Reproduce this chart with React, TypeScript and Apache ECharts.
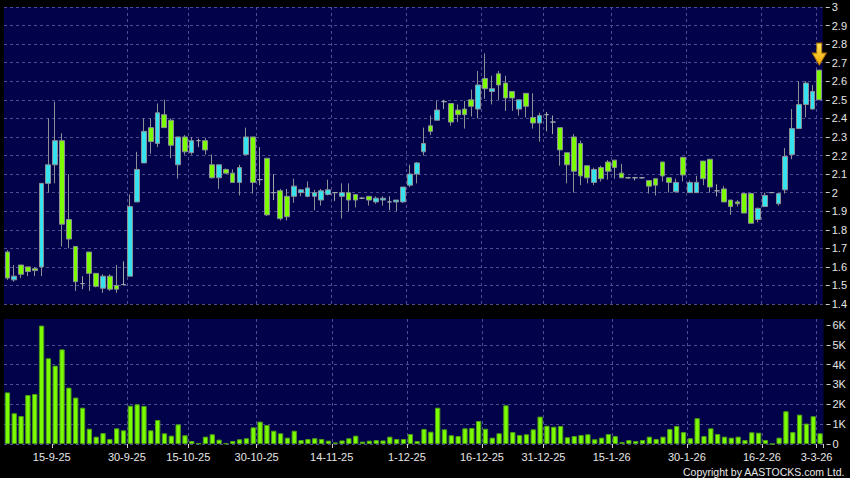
import React, { useEffect, useRef } from 'react';
import * as echarts from 'echarts';

const dates = [
  '4-9-25','5-9-25','8-9-25','9-9-25','10-9-25','11-9-25','12-9-25','15-9-25','16-9-25','17-9-25',
  '18-9-25','19-9-25','22-9-25','23-9-25','24-9-25','25-9-25','26-9-25','29-9-25','30-9-25',
  '2-10-25','3-10-25','6-10-25','8-10-25','9-10-25','10-10-25','13-10-25','14-10-25','15-10-25','16-10-25',
  '17-10-25','20-10-25','21-10-25','22-10-25','23-10-25','24-10-25','27-10-25','28-10-25','30-10-25','31-10-25',
  '3-11-25','4-11-25','5-11-25','6-11-25','7-11-25','10-11-25','11-11-25','12-11-25','13-11-25','14-11-25',
  '17-11-25','18-11-25','19-11-25','20-11-25','21-11-25','24-11-25','25-11-25','26-11-25','27-11-25','28-11-25',
  '1-12-25','2-12-25','3-12-25','4-12-25','5-12-25','8-12-25','9-12-25','10-12-25','11-12-25','12-12-25',
  '15-12-25','16-12-25','17-12-25','18-12-25','19-12-25','22-12-25','23-12-25','24-12-25','29-12-25','30-12-25','31-12-25',
  '2-1-26','5-1-26','6-1-26','7-1-26','8-1-26','9-1-26','12-1-26','13-1-26','14-1-26','15-1-26',
  '16-1-26','19-1-26','20-1-26','21-1-26','22-1-26','23-1-26','26-1-26','27-1-26','28-1-26','29-1-26','30-1-26',
  '2-2-26','3-2-26','4-2-26','5-2-26','6-2-26','9-2-26','10-2-26','11-2-26','12-2-26','13-2-26',
  '16-2-26','20-2-26','23-2-26','24-2-26','25-2-26','26-2-26','27-2-26',
  '2-3-26','3-3-26',
];

const opens = [
  1.68,1.53,1.61,1.60,1.59,1.60,2.05,2.15,2.28,1.855,
  1.71,1.51,1.68,1.565,1.485,1.55,1.50,1.505,1.55,1.95,
  2.16,2.35,2.265,2.42,2.39,2.15,2.30,2.215,2.28,2.28,
  2.15,2.08,2.125,2.105,2.055,2.205,2.30,2.07,2.185,2.0,
  2.01,1.98,1.98,2.0,1.98,1.98,1.96,1.99,2.0,1.98,
  2.0,1.99,1.97,1.98,1.95,1.96,1.95,1.95,1.95,2.04,
  2.10,2.22,2.36,2.39,2.49,2.48,2.445,2.45,2.50,2.45,
  2.615,2.545,2.64,2.59,2.545,2.45,2.535,2.405,2.375,2.42,
  2.38,2.35,2.215,2.30,2.265,2.145,2.055,2.135,2.165,2.175,
  2.105,2.08,2.08,2.08,2.065,2.075,2.165,2.08,2.005,2.19,
  2.0,2.0,2.17,2.18,2.01,2.02,1.96,1.95,1.995,1.995,
  1.855,1.925,2.0,1.94,2.015,2.205,2.345,2.475,2.45,2.66,
];

const closes = [
  1.54,1.55,1.56,1.575,1.58,2.05,2.15,2.28,1.83,1.75,
  1.52,1.51,1.565,1.495,1.55,1.48,1.48,1.505,1.925,2.125,
  2.33,2.275,2.43,2.35,2.255,2.30,2.22,2.28,2.28,2.23,
  2.08,2.15,2.105,2.055,2.135,2.30,2.055,2.07,1.88,2.0,
  1.86,1.87,2.035,2.015,2.025,2.0,2.01,2.015,2.0,2.0,
  1.96,1.96,1.97,1.96,1.97,1.97,1.95,1.96,2.03,2.10,
  2.16,2.265,2.33,2.445,2.49,2.38,2.42,2.42,2.465,2.58,
  2.56,2.56,2.58,2.51,2.51,2.50,2.465,2.375,2.415,2.42,
  2.38,2.23,2.15,2.115,2.09,2.08,2.125,2.075,2.115,2.135,
  2.08,2.08,2.08,2.08,2.035,2.04,2.09,2.055,2.055,2.095,
  2.055,2.055,2.075,2.03,2.01,1.95,1.925,1.94,1.89,1.835,
  1.915,1.985,2.0,1.995,2.195,2.345,2.475,2.59,2.545,2.50,
];

const lows = [
  1.53,1.52,1.54,1.55,1.55,1.55,2.00,2.05,1.71,1.70,
  1.47,1.48,1.47,1.49,1.46,1.47,1.46,1.50,1.55,1.95,
  2.16,2.21,2.245,2.35,2.185,2.075,2.205,2.205,2.245,2.205,
  2.075,2.02,2.10,2.055,1.985,2.205,1.995,2.04,1.875,1.96,
  1.85,1.85,1.945,1.98,1.975,1.905,1.93,1.985,1.955,1.86,
  1.90,1.92,1.965,1.93,1.94,1.93,1.905,1.90,1.945,2.03,
  2.05,2.20,2.31,2.39,2.45,2.36,2.38,2.345,2.41,2.40,
  2.505,2.475,2.50,2.44,2.44,2.415,2.405,2.345,2.275,2.33,
  2.315,2.145,2.05,2.0,2.04,2.05,2.04,2.06,2.07,2.075,
  2.08,2.075,2.065,2.075,1.995,1.985,2.06,2.0,2.0,2.06,
  2.0,2.0,2.04,2.0,1.98,1.95,1.88,1.925,1.89,1.835,
  1.84,1.925,2.0,1.93,1.995,2.18,2.345,2.405,2.45,2.50,
];

const highs = [
  1.69,1.61,1.61,1.60,1.60,2.05,2.40,2.49,2.32,2.10,
  1.71,1.55,1.68,1.565,1.56,1.56,1.61,1.63,1.99,2.22,
  2.40,2.40,2.48,2.50,2.40,2.30,2.31,2.30,2.29,2.295,
  2.205,2.15,2.13,2.125,2.15,2.35,2.30,2.245,2.185,2.10,
  2.02,2.02,2.075,2.02,2.06,2.015,2.02,2.07,2.0,2.05,
  2.05,1.99,1.975,1.98,1.98,1.98,1.98,1.96,2.03,2.15,
  2.165,2.35,2.415,2.495,2.50,2.48,2.475,2.495,2.555,2.655,
  2.75,2.63,2.655,2.63,2.545,2.50,2.535,2.535,2.43,2.435,
  2.415,2.35,2.215,2.315,2.28,2.145,2.135,2.145,2.175,2.175,
  2.155,2.085,2.085,2.08,2.065,2.075,2.165,2.08,2.075,2.19,
  2.065,2.09,2.17,2.18,2.045,2.035,1.96,1.96,1.995,1.995,
  1.92,2.0,2.0,1.995,2.24,2.45,2.60,2.60,2.58,2.66,
];

// volume, in thousands
const volumesK = [
  2.6,1.55,1.41,2.47,2.52,5.97,4.32,3.95,4.77,2.84,
  2.34,1.83,0.77,0.37,0.55,0.25,0.79,0.69,1.93,2.0,
  1.92,0.69,1.21,0.54,0.42,0.99,0.44,0.15,0.03,0.37,
  0.49,0.22,0.03,0.15,0.24,0.29,0.84,1.13,0.96,0.67,
  0.54,0.32,0.67,0.2,0.25,0.29,0.25,0.17,0.08,0.18,
  0.29,0.42,0.12,0.17,0.2,0.18,0.37,0.25,0.25,0.5,
  0.15,0.76,0.62,1.83,0.74,0.44,0.40,0.79,0.81,1.16,
  0.77,0.32,0.54,1.95,0.6,0.45,0.49,0.74,1.38,0.92,
  0.87,0.91,0.34,0.40,0.45,0.49,0.24,0.32,0.5,0.4,
  0.1,0.2,0.15,0.2,0.37,0.25,0.37,0.76,0.91,0.6,
  0.29,1.3,0.4,0.79,0.5,0.37,0.32,0.37,0.2,0.59,
  0.57,0.2,0,0.32,1.65,0.6,1.48,1.03,1.4,0.54,
];

const labelDates = [
  '15-9-25','30-9-25','15-10-25','30-10-25','14-11-25','1-12-25',
  '16-12-25','31-12-25','15-1-26','30-1-26','16-2-26','3-3-26',
];

const volumeTicks = [0, 1, 2, 3, 4, 5, 6];
const copyright = 'Copyright by AASTOCKS.com Ltd.';

const ARROW = 'path://M4.5,0 L9.5,0 L9.5,10 L14,10 L7,22 L0,10 L4.5,10 Z';
const FONT = '"Liberation Sans", Arial, sans-serif';

export default function App() {
  const ref = useRef<HTMLDivElement>(null);

  useEffect(() => {
    document.body.style.margin = '0';
    document.body.style.background = '#000';
    const chart = echarts.init(ref.current as HTMLDivElement, null, { renderer: 'svg' });

    const labelSet = new Set(labelDates);
    const isLabel = (i: number) => labelSet.has(dates[i]);
    const dashed = { color: '#4d4d92', type: [3, 3] as any, width: 1 };
    const last = dates.length - 1;

    const option: any = {
      animation: false,
      backgroundColor: '#000000',
      textStyle: { fontFamily: FONT },
      grid: [
        { left: 4, right: 26.5, top: 7, height: 297, show: true, backgroundColor: '#02024a', borderWidth: 0 },
        { left: 4, right: 26.5, top: 319, height: 125, show: true, backgroundColor: '#02024a', borderWidth: 0 },
      ],
      xAxis: [
        {
          type: 'category', gridIndex: 0, data: dates, boundaryGap: true,
          axisLine: { show: false }, axisTick: { show: false }, axisLabel: { show: false },
          splitLine: { show: true, interval: (i: number) => isLabel(i), showMaxLine: false, showMinLine: false, lineStyle: dashed },
        },
        {
          type: 'category', gridIndex: 1, data: dates, boundaryGap: true,
          axisLine: { show: false },
          axisTick: { show: true, interval: (i: number) => isLabel(i), length: 4, lineStyle: { color: '#cfcfcf' } },
          axisLabel: {
            interval: (i: number) => isLabel(i), color: '#e6e6e6', fontSize: 11, fontFamily: FONT,
            margin: 7, padding: [0, 7, 0, 0],
          },
          splitLine: { show: true, interval: (i: number) => isLabel(i), showMaxLine: false, showMinLine: false, lineStyle: dashed },
        },
      ],
      yAxis: [
        {
          type: 'value', gridIndex: 0, position: 'right', offset: 3,
          min: 1.4, max: 3, interval: 0.1, scale: true,
          axisLine: { show: false },
          axisTick: { show: true, length: 4, lineStyle: { color: '#cfcfcf' } },
          axisLabel: {
            margin: 6, color: '#e6e6e6', fontSize: 11, fontFamily: FONT,
            formatter: (v: number) => String(parseFloat(v.toFixed(1))),
          },
          splitLine: { show: true, lineStyle: dashed },
        },
        {
          type: 'value', gridIndex: 1, position: 'right', offset: 3,
          min: 0, max: 6.3, interval: 1,
          axisLine: { show: false },
          axisTick: { show: true, length: 4, customValues: volumeTicks, lineStyle: { color: '#cfcfcf' } },
          axisLabel: {
            margin: 6, color: '#e6e6e6', fontSize: 11, fontFamily: FONT, customValues: volumeTicks,
            formatter: (v: number) => {
              if (Math.abs(v - Math.round(v)) > 0.01) return '';
              return v === 0 ? '0' : `${Math.round(v)}K`;
            },
          },
          splitLine: { show: true, showMaxLine: false, lineStyle: dashed },
        },
      ],
      graphic: [
        {
          type: 'text', right: 5, bottom: 1,
          style: { text: copyright, fill: '#e8e8e8', font: `10.5px ${FONT}` },
        },
      ],
      series: [
        {
          type: 'candlestick', xAxisIndex: 0, yAxisIndex: 0,
          data: dates.map((_, i) => [opens[i], closes[i], lows[i], highs[i]]),
          barWidth: 5.2,
          itemStyle: {
            color: '#36e2ee', color0: '#7cfc00',
            borderColor: '#8c9096', borderColor0: '#8c9096', borderColorDoji: '#a0a4a8',
            borderWidth: 1,
          },
          markPoint: {
            silent: true,
            symbol: ARROW,
            symbolSize: [14, 22],
            symbolOffset: [0, -16],
            label: { show: false },
            itemStyle: {
              color: new echarts.graphic.LinearGradient(0, 0, 0, 1, [
                { offset: 0, color: '#ffe45a' },
                { offset: 1, color: '#f0a800' },
              ]),
              borderColor: '#b07800', borderWidth: 1,
            },
            data: [{ coord: [dates[last], highs[last]] }],
          },
        },
        {
          type: 'bar', xAxisIndex: 1, yAxisIndex: 1,
          data: volumesK,
          barWidth: 5.3,
          itemStyle: { color: '#7cfc00', borderColor: '#4e9e18', borderWidth: 1 },
        },
      ],
    };

    chart.setOption(option);
    return () => chart.dispose();
  }, []);

  return <div ref={ref} style={{ width: 850, height: 478, background: '#000' }} />;
}
